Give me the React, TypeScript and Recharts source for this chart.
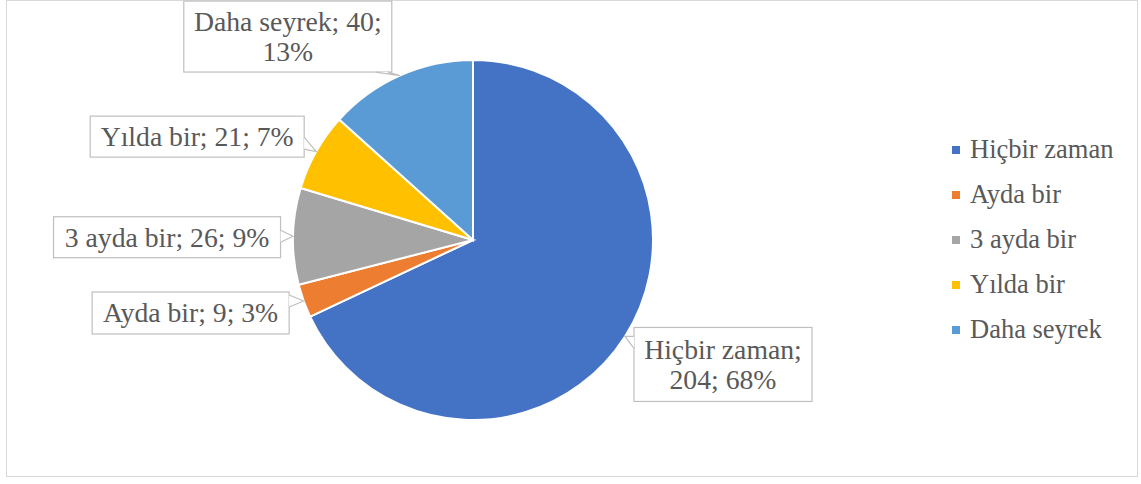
import React from 'react';
import { Cell, Legend, Pie, PieChart } from 'recharts';

const categories = ['Hiçbir zaman', 'Ayda bir', '3 ayda bir', 'Yılda bir', 'Daha seyrek'];
const counts = [204, 9, 26, 21, 40];

const COLORS = ['#4472C4', '#ED7D31', '#A5A5A5', '#FFC000', '#5B9BD5'];

// callout placement relative to the slice tip (hand-placed like in the original)
const CALLOUTS = [
  { dx: 98, dy: 28, w: 178, h: 74, breakAfter: 1 },
  { dx: -113, dy: 12, w: 197, h: 42, breakAfter: 0 },
  { dx: -126, dy: 1, w: 227, h: 41, breakAfter: 0 },
  { dx: -119, dy: -15, w: 214, h: 41, breakAfter: 0 },
  { dx: -112, dy: -39, w: 208, h: 71, breakAfter: 2 },
];

const TEXT = '#595959';
const FONT = "'Times New Roman', 'Liberation Serif', serif";
const RAD = Math.PI / 180;

const chartData = categories.map((name, i) => ({ name, value: counts[i], color: COLORS[i] }));
const total = counts.reduce((a, b) => a + b, 0);

const renderCallout = (props: any) => {
  const { cx, cy, midAngle, outerRadius, index, value, name } = props;
  const tx = cx + Math.cos(-midAngle * RAD) * outerRadius;
  const ty = cy + Math.sin(-midAngle * RAD) * outerRadius;
  const c = CALLOUTS[index];
  const left = tx + c.dx - c.w / 2;
  const top = ty + c.dy - c.h / 2;
  const right = left + c.w;
  const bottom = top + c.h;

  const parts = [name, String(value), `${Math.round((value / total) * 100)}%`];
  let lines: string[];
  if (c.breakAfter) {
    lines = [parts.slice(0, c.breakAfter).join('; ') + ';', parts.slice(c.breakAfter).join('; ')];
  } else {
    lines = [parts.join('; ')];
  }

  // wedge pointing to the slice
  let b1: [number, number];
  let b2: [number, number];
  if (ty > bottom) {
    const bx = Math.min(Math.max(tx, left + 14), right - 4);
    b1 = [bx - 12, bottom];
    b2 = [bx, bottom];
  } else if (tx < left) {
    const by = Math.min(Math.max(ty, top + 4), bottom - 14);
    b1 = [left, by];
    b2 = [left, by + 12];
  } else if (tx > right) {
    const by = Math.min(Math.max(ty, top + 4), bottom - 14);
    b1 = [right, by - 6];
    b2 = [right, by + 6];
  } else {
    const bx = Math.min(Math.max(tx, left + 10), right - 10);
    b1 = [bx - 6, top];
    b2 = [bx + 6, top];
  }

  const lh = 30;
  const midY = (top + bottom) / 2;
  const firstY = midY - ((lines.length - 1) * lh) / 2;

  return (
    <g key={`callout-${index}`}>
      <rect x={left} y={top} width={c.w} height={c.h} fill="#fff" stroke="#bfbfbf" strokeWidth={1.2} />
      <polygon points={`${b1[0]},${b1[1]} ${tx},${ty} ${b2[0]},${b2[1]}`} fill="#fff" stroke="none" />
      <polyline points={`${b1[0]},${b1[1]} ${tx},${ty} ${b2[0]},${b2[1]}`} fill="none" stroke="#bfbfbf" strokeWidth={1.2} />
      <text x={(left + right) / 2} textAnchor="middle" fill={TEXT} style={{ fontFamily: FONT, fontSize: 27.7 }}>
        {lines.map((l, i) => (
          <tspan key={i} x={(left + right) / 2} y={firstY + i * lh} dominantBaseline="central">
            {l}
          </tspan>
        ))}
      </text>
    </g>
  );
};

const LegendContent = () => (
  <div style={{ fontFamily: FONT, fontSize: 26.5, color: TEXT }}>
    {chartData.map((d) => (
      <div key={d.name} style={{ display: 'flex', alignItems: 'center', height: 45, whiteSpace: 'nowrap' }}>
        <span style={{ width: 8, height: 8, background: d.color, marginRight: 10, display: 'inline-block' }} />
        <span>{d.name}</span>
      </div>
    ))}
  </div>
);

export default function App() {
  return (
    <div style={{ position: 'absolute', left: 0, top: 0, width: 1141, height: 484, background: '#fff' }}>
      <div
        style={{
          position: 'absolute',
          left: 6,
          top: 0,
          width: 1132,
          height: 477,
          border: '1px solid #d9d9d9',
          boxSizing: 'border-box',
        }}
      />
      <PieChart width={1141} height={484} style={{ position: 'absolute', left: 0, top: 0 }}>
        <Pie
          data={chartData}
          dataKey="value"
          nameKey="name"
          cx={468}
          cy={235}
          outerRadius={180}
          startAngle={90}
          endAngle={-270}
          stroke="#fff"
          strokeWidth={2}
          labelLine={false}
          label={renderCallout}
          isAnimationActive={false}
        >
          {chartData.map((entry, index) => (
            <Cell key={`cell-${index}`} fill={entry.color} />
          ))}
        </Pie>
        <Legend
          layout="vertical"
          align="right"
          verticalAlign="top"
          wrapperStyle={{ left: 952, top: 127, width: 188 }}
          content={<LegendContent />}
        />
      </PieChart>
    </div>
  );
}
